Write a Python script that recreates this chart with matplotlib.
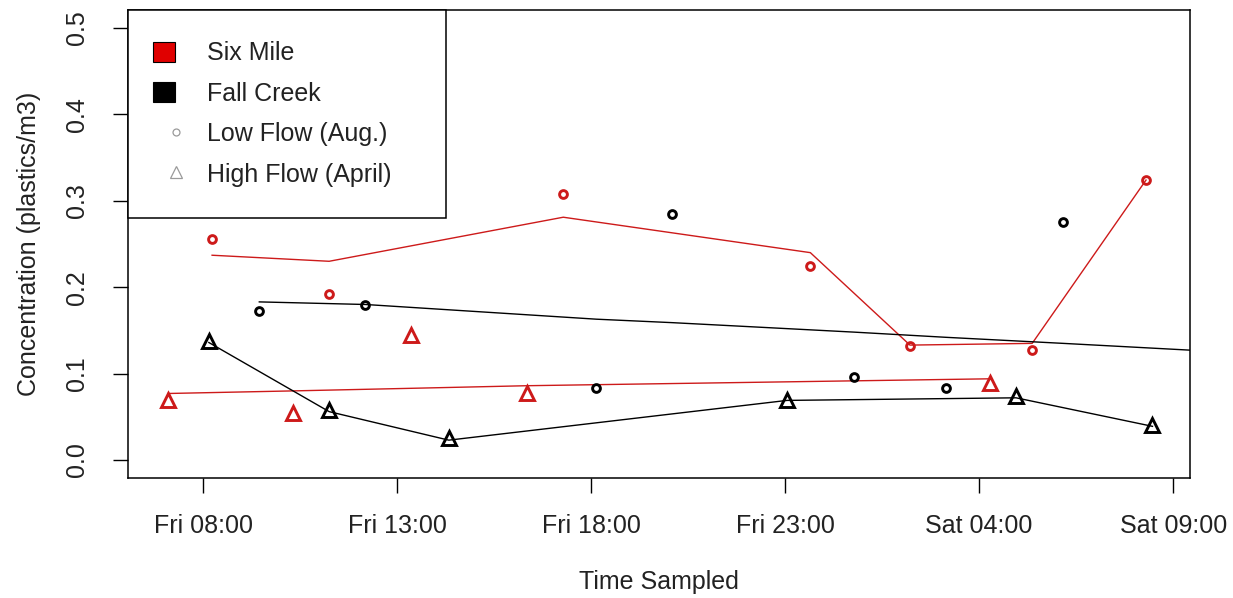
import matplotlib
matplotlib.use("Agg")
import matplotlib.pyplot as plt
import matplotlib.dates as mdates
from matplotlib.patches import Patch
from matplotlib.lines import Line2D
from matplotlib.legend_handler import HandlerLine2D, HandlerPatch
import pandas as pd

# Six Mile, low flow (Aug.) - points and smoothed line
six_low_time = ["2017-08-04 08:14", "2017-08-04 11:15", "2017-08-04 17:17", "2017-08-04 23:39",
                "2017-08-05 02:13", "2017-08-05 05:22", "2017-08-05 08:18"]
six_low_conc = [0.256, 0.192, 0.308, 0.225, 0.132, 0.127, 0.324]
six_low_fit = [0.237, 0.230, 0.281, 0.240, 0.133, 0.135, 0.324]

# Fall Creek, low flow (Aug.)
fall_low_time = ["2017-08-04 09:27", "2017-08-04 12:11", "2017-08-04 18:08", "2017-08-04 20:05",
                 "2017-08-05 00:47", "2017-08-05 03:09", "2017-08-05 06:10"]
fall_low_conc = [0.173, 0.179, 0.083, 0.285, 0.096, 0.083, 0.276]
fall_low_fit_time = fall_low_time + ["2017-08-05 09:30"]
fall_low_fit = [0.183, 0.180, 0.163, 0.159, 0.148, 0.142, 0.135, 0.127]

# Six Mile, high flow (April)
six_high_time = ["2017-08-04 07:06", "2017-08-04 10:19", "2017-08-04 13:22", "2017-08-04 16:21",
                 "2017-08-05 04:17"]
six_high_conc = [0.069, 0.054, 0.145, 0.078, 0.089]
six_high_fit = [0.077, 0.080, 0.083, 0.086, 0.094]

# Fall Creek, high flow (April)
fall_high_time = ["2017-08-04 08:09", "2017-08-04 11:15", "2017-08-04 14:20", "2017-08-04 23:03",
                  "2017-08-05 04:57", "2017-08-05 08:28"]
fall_high_conc = [0.138, 0.058, 0.025, 0.070, 0.074, 0.040]
fall_high_fit = [0.136, 0.056, 0.023, 0.069, 0.072, 0.039]

x_ticks = ["2017-08-04 08:00", "2017-08-04 13:00", "2017-08-04 18:00", "2017-08-04 23:00",
           "2017-08-05 04:00", "2017-08-05 09:00"]
y_ticks = [0.0, 0.1, 0.2, 0.3, 0.4, 0.5]
legend_labels = ["Six Mile", "Fall Creek", "Low Flow (Aug.)", "High Flow (April)"]

red = "#cd1a1a"
plt.rcParams["font.family"] = ["Liberation Sans", "DejaVu Sans"]
plt.rcParams["font.size"] = 18


class ShiftedMarker(HandlerLine2D):
    # R puts the pch symbols a bit right of the fill boxes
    def create_artists(self, legend, orig_handle, xdescent, ydescent, width, height, fontsize, trans):
        return super().create_artists(legend, orig_handle, xdescent - 4.5, ydescent,
                                      width, height, fontsize, trans)


class ShiftedBox(HandlerPatch):
    def create_artists(self, legend, orig_handle, xdescent, ydescent, width, height, fontsize, trans):
        return super().create_artists(legend, orig_handle, xdescent + 4.3, ydescent,
                                      width, height, fontsize, trans)


fig = plt.figure(figsize=(12.33, 5.98), dpi=100)
ax = fig.add_axes([128 / 1233, 1 - 478 / 598, (1190 - 128) / 1233, (478 - 10) / 598])

t = pd.to_datetime
ax.plot(t(six_low_time), six_low_fit, color=red, lw=1.0)
ax.plot(t(fall_low_fit_time), fall_low_fit, color="black", lw=1.0)
ax.plot(t(six_high_time), six_high_fit, color=red, lw=1.0)
ax.plot(t(fall_high_time), fall_high_fit, color="black", lw=1.0)

mk = dict(ls="none", mfc="none", mew=2.1)
ax.plot(t(six_low_time), six_low_conc, marker="o", ms=5.6, mec=red, **mk)
ax.plot(t(fall_low_time), fall_low_conc, marker="o", ms=5.6, mec="black", **mk)
ax.plot(t(six_high_time), six_high_conc, marker="^", ms=9.5, mec=red, **mk)
ax.plot(t(fall_high_time), fall_high_conc, marker="^", ms=9.5, mec="black", **mk)

ax.set_xlim(t("2017-08-04 06:04"), t("2017-08-05 09:26"))
ax.set_ylim(-0.0208, 0.5208)
ax.set_xticks(t(x_ticks))
ax.xaxis.set_major_formatter(mdates.DateFormatter("%a %H:%M"))
ax.set_yticks(y_ticks)
ax.set_yticklabels([f"{v:.1f}" for v in y_ticks], rotation=90, va="center")
ax.tick_params(axis="both", length=11, width=1.0, direction="out", labelcolor="#222222")
ax.tick_params(axis="x", pad=15)
ax.tick_params(axis="y", pad=17)
for s in ax.spines.values():
    s.set_linewidth(1.1)

ax.set_xlabel("Time Sampled", va="center", color="#222222")
ax.xaxis.set_label_coords(0.5, (478 - 582) / 468)
ax.set_ylabel("Concentration (plastics/m3)", va="center", color="#222222")
ax.yaxis.set_label_coords((29 - 128) / 1062, 0.5)

six_h = Patch(facecolor="#e00000", edgecolor="black", lw=0.8)
fall_h = Patch(facecolor="black", edgecolor="black", lw=0.8)
low_h = Line2D([], [], ls="none", marker="o", ms=5, mfc="none", mec="#9a9a9a", mew=0.9)
high_h = Line2D([], [], ls="none", marker="^", ms=9, mfc="none", mec="#9a9a9a", mew=0.9)
leg = ax.legend([six_h, fall_h, low_h, high_h], legend_labels, loc="upper left",
                bbox_to_anchor=(0, 1 - 205 / 468, 318 / 1062, 205 / 468), mode="expand",
                borderaxespad=0, fancybox=False, edgecolor="black", framealpha=1,
                handlelength=0.85, handleheight=0.85, handletextpad=1.06,
                labelspacing=0.66, borderpad=1.25, labelcolor="#222222",
                handler_map={low_h: ShiftedMarker(), high_h: ShiftedMarker(),
                             six_h: ShiftedBox(), fall_h: ShiftedBox()})
leg.get_frame().set_linewidth(1.1)

fig.savefig("out.png", dpi=100)
